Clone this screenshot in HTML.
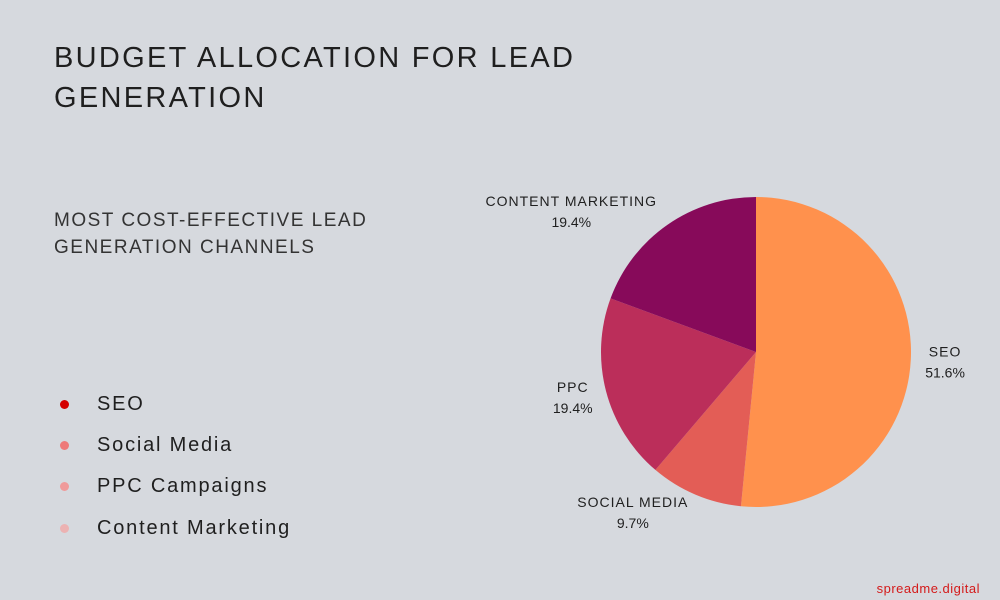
<!DOCTYPE html>
<html><head><meta charset="utf-8"><style>
body{margin:0;width:1000px;height:600px;background:#d6d9de;font-family:"Liberation Sans",sans-serif;overflow:hidden;position:relative;color:#1f1f1f}
.t{position:absolute;left:54px;top:38px;font-size:29px;letter-spacing:2.3px;line-height:40px}
.st{position:absolute;left:54px;top:207px;font-size:19px;letter-spacing:1.5px;line-height:27px;color:#333}
.lg{position:absolute;left:58px;font-size:20px;letter-spacing:1.8px;line-height:22px}
.lg i{position:absolute;left:2px;top:7px;width:9px;height:9px;border-radius:50%}
.lg span{position:absolute;left:39px;white-space:nowrap}
.wm{position:absolute;right:20px;top:581px;font-size:13px;color:#d41a1a;letter-spacing:.5px}
</style></head><body>
<div class="t">BUDGET ALLOCATION FOR LEAD<br>GENERATION</div>
<div class="st">MOST COST-EFFECTIVE LEAD<br>GENERATION CHANNELS</div>
<div class="lg" style="top:393px"><i style="background:#d40000"></i><span>SEO</span></div>
<div class="lg" style="top:434px"><i style="background:#ee7a7a"></i><span>Social Media</span></div>
<div class="lg" style="top:475px"><i style="background:#ef9a9a"></i><span>PPC Campaigns</span></div>
<div class="lg" style="top:517px"><i style="background:#ecb2b2"></i><span>Content Marketing</span></div>
<svg id="pie" width="1000" height="600" style="position:absolute;left:0;top:0"></svg>
<div class="wm">spreadme.digital</div>
<script>
const categories=["SEO","SOCIAL MEDIA","PPC","CONTENT MARKETING"];
const values=[51.6,9.7,19.4,19.4];
const labels=["51.6%","9.7%","19.4%","19.4%"];
const colors=["#ff914d","#e35d56","#bb2e5a","#870a5a"];
const cx=756,cy=352,r=155;
const svg=document.getElementById('pie');const NS="http://www.w3.org/2000/svg";
const total=values.reduce((a,b)=>a+b,0);
function pt(a,rad){return [cx+rad*Math.sin(a),cy-rad*Math.cos(a)];}
let acc=0;
values.forEach((v,i)=>{
 const a0=acc/total*2*Math.PI;acc+=v;const a1=acc/total*2*Math.PI;
 const p0=pt(a0,r),p1=pt(a1,r);
 const p=document.createElementNS(NS,'path');
 p.setAttribute('d',`M${cx},${cy}L${p0[0]},${p0[1]}A${r},${r} 0 ${a1-a0>Math.PI?1:0} 1 ${p1[0]},${p1[1]}Z`);
 p.setAttribute('fill',colors[i]);
 
 
 svg.appendChild(p);
 const am=(a0+a1)/2;
 const q=pt(am,r+18);
 const right=Math.sin(am)>0;
 const t=document.createElementNS(NS,'text');
 t.setAttribute('x',q[0]);t.setAttribute('y',q[1]-4);t.setAttribute('text-anchor',right?'start':'end');
 t.setAttribute('font-size','14');t.setAttribute('fill','#1f1f1f');t.setAttribute('font-family','Liberation Sans, sans-serif');t.setAttribute('letter-spacing','1');
 t.textContent=categories[i];
 
 
 svg.appendChild(t);
 const w=t.getComputedTextLength();
 const mx=right?q[0]+w/2:q[0]-w/2;
 const t2=document.createElementNS(NS,'text');
 t2.setAttribute('x',mx);t2.setAttribute('y',q[1]+17);t2.setAttribute('text-anchor','middle');
 t2.setAttribute('font-size','14');t2.setAttribute('fill','#1f1f1f');t2.setAttribute('font-family','Liberation Sans, sans-serif');
 t2.textContent=labels[i];
 
 
 svg.appendChild(t2);
});
</script>
</body></html>
